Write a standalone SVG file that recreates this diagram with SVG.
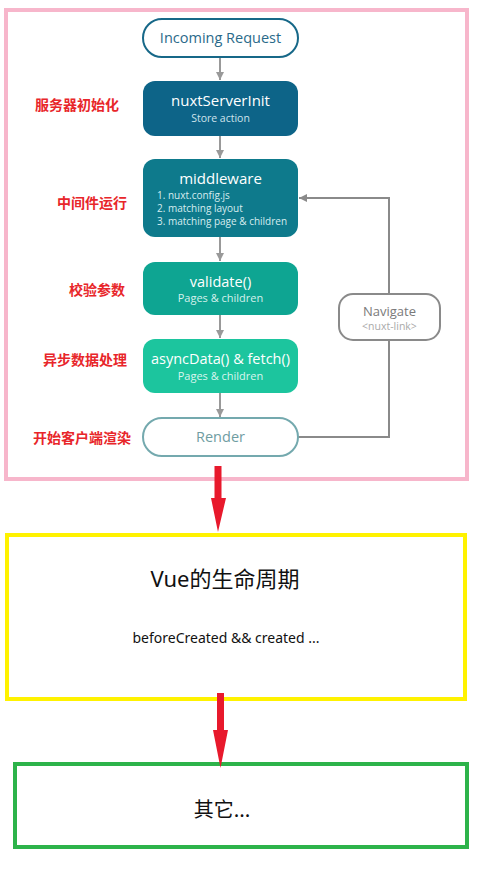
<svg xmlns="http://www.w3.org/2000/svg" width="480" height="872" viewBox="0 0 480 872">
<defs>
<style>
.t{font-family:"Open Sans","Noto Sans","Liberation Sans",sans-serif;text-anchor:middle}
.w{fill:#ffffff}
.lab{font-family:"Noto Sans CJK SC","Noto Sans",sans-serif;font-weight:bold;font-size:14px;fill:#e8262a}
.ga{stroke:#999999;stroke-width:2;fill:none}
.nv{stroke:#8a8a8a;stroke-width:2;fill:none}
</style>
<marker id="ah" viewBox="0 0 10 10" refX="10" refY="5" markerWidth="4" markerHeight="4" orient="auto" markerUnits="strokeWidth">
<path d="M0,0 L10,5 L0,10 z" fill="#999999"/>
</marker>
<marker id="ah2" viewBox="0 0 10 10" refX="10" refY="5" markerWidth="4" markerHeight="4" orient="auto" markerUnits="strokeWidth">
<path d="M0,0 L10,5 L0,10 z" fill="#8a8a8a"/>
</marker>
</defs>
<rect width="480" height="872" fill="#ffffff"/>
<g id="frame-server"><rect x="6" y="10" width="461" height="469" fill="none" stroke="#f7b6cb" stroke-width="4"/></g>
<g id="frame-vue"><rect x="7" y="535" width="458" height="164" fill="none" stroke="#fff200" stroke-width="4"/>
<text class="t" x="225" y="587" font-size="22" fill="#111" style="font-family:'Noto Sans','Noto Sans CJK SC',sans-serif">Vue的生命周期</text>
<text class="t" x="226" y="643" font-size="14" fill="#111" style="font-family:'Noto Sans','Noto Sans CJK SC',sans-serif">beforeCreated &amp;&amp; created ...</text></g>
<g id="frame-other"><rect x="15" y="764" width="452" height="83" fill="none" stroke="#2db34a" stroke-width="4"/>
<text class="t" x="222" y="817" font-size="20" fill="#111" style="font-family:'Noto Sans CJK SC','Noto Sans',sans-serif">其它...</text></g>

<g id="connectors">
<line class="ga" x1="220" y1="57" x2="220" y2="80" marker-end="url(#ah)"/>
<line class="ga" x1="220" y1="136" x2="220" y2="158" marker-end="url(#ah)"/>
<line class="ga" x1="220" y1="237" x2="220" y2="261" marker-end="url(#ah)"/>
<line class="ga" x1="220" y1="315" x2="220" y2="338" marker-end="url(#ah)"/>
<line class="ga" x1="220" y1="393" x2="220" y2="417" marker-end="url(#ah)"/>
<polyline class="nv" points="298,437 389,437 389,340"/>
<polyline class="nv" points="389,294 389,198 299,198" marker-end="url(#ah2)"/>
<polygon points="214.5,466 221.5,466 221.5,498 226,498 218,532 211,498 214.5,498" fill="#e8192c"/>
<polygon points="217,693 224,693 224,730 228,730 220.5,768 213,730 217,730" fill="#e8192c"/>
</g>

<g id="incoming"><rect x="143" y="19" width="155" height="38" rx="19" fill="#fff" stroke="#176888" stroke-width="2"/>
<text class="t" x="220.5" y="43" font-size="14.5" fill="#2a6a8a">Incoming Request</text></g>
<g id="nuxtServerInit"><rect x="143" y="81" width="155" height="55" rx="12" fill="#0d6488"/>
<text class="t w" x="220.5" y="106" font-size="15">nuxtServerInit</text>
<text class="t" x="220.5" y="122" font-size="10.5" fill="#cfe3ec">Store action</text></g>
<g id="middleware"><rect x="143" y="159" width="155" height="78" rx="12" fill="#0e7a8c"/>
<text class="t w" x="220.5" y="184" font-size="15">middleware</text>
<g font-size="10" fill="#d6ecef" style="font-family:'Open Sans','Noto Sans',sans-serif">
<text x="157" y="199">1. nuxt.config.js</text>
<text x="157" y="212">2. matching layout</text>
<text x="157" y="225">3. matching page &amp; children</text></g></g>
<g id="validate"><rect x="143" y="262" width="155" height="53" rx="12" fill="#0ea592"/>
<text class="t w" x="220.5" y="287" font-size="14.5">validate()</text>
<text class="t" x="220.5" y="302" font-size="11" fill="#d4f1ec">Pages &amp; children</text></g>
<g id="asyncData"><rect x="143" y="339" width="155" height="54" rx="12" fill="#1cc59e"/>
<text class="t w" x="220.5" y="364" font-size="14.5">asyncData() &amp; fetch()</text>
<text class="t" x="220.5" y="380" font-size="11" fill="#d8f5ee">Pages &amp; children</text></g>
<g id="render"><rect x="143" y="418" width="155" height="38" rx="19" fill="#fff" stroke="#74a9ae" stroke-width="2"/>
<text class="t" x="220.5" y="442" font-size="14.5" fill="#6f9da2">Render</text></g>
<g id="navigate"><rect x="339" y="294" width="101" height="46" rx="14" fill="#fff" stroke="#8a8a8a" stroke-width="2"/>
<text class="t" x="389.5" y="316" font-size="13" fill="#7a7a7a">Navigate</text>
<text class="t" x="389.5" y="330" font-size="10.5" fill="#aaaaaa">&lt;nuxt-link&gt;</text></g>

<g id="labels">
<text class="lab" x="35" y="110">服务器初始化</text>
<text class="lab" x="57" y="208">中间件运行</text>
<text class="lab" x="69" y="295">校验参数</text>
<text class="lab" x="43" y="365">异步数据处理</text>
<text class="lab" x="33" y="443">开始客户端渲染</text>
</g>
</svg>
